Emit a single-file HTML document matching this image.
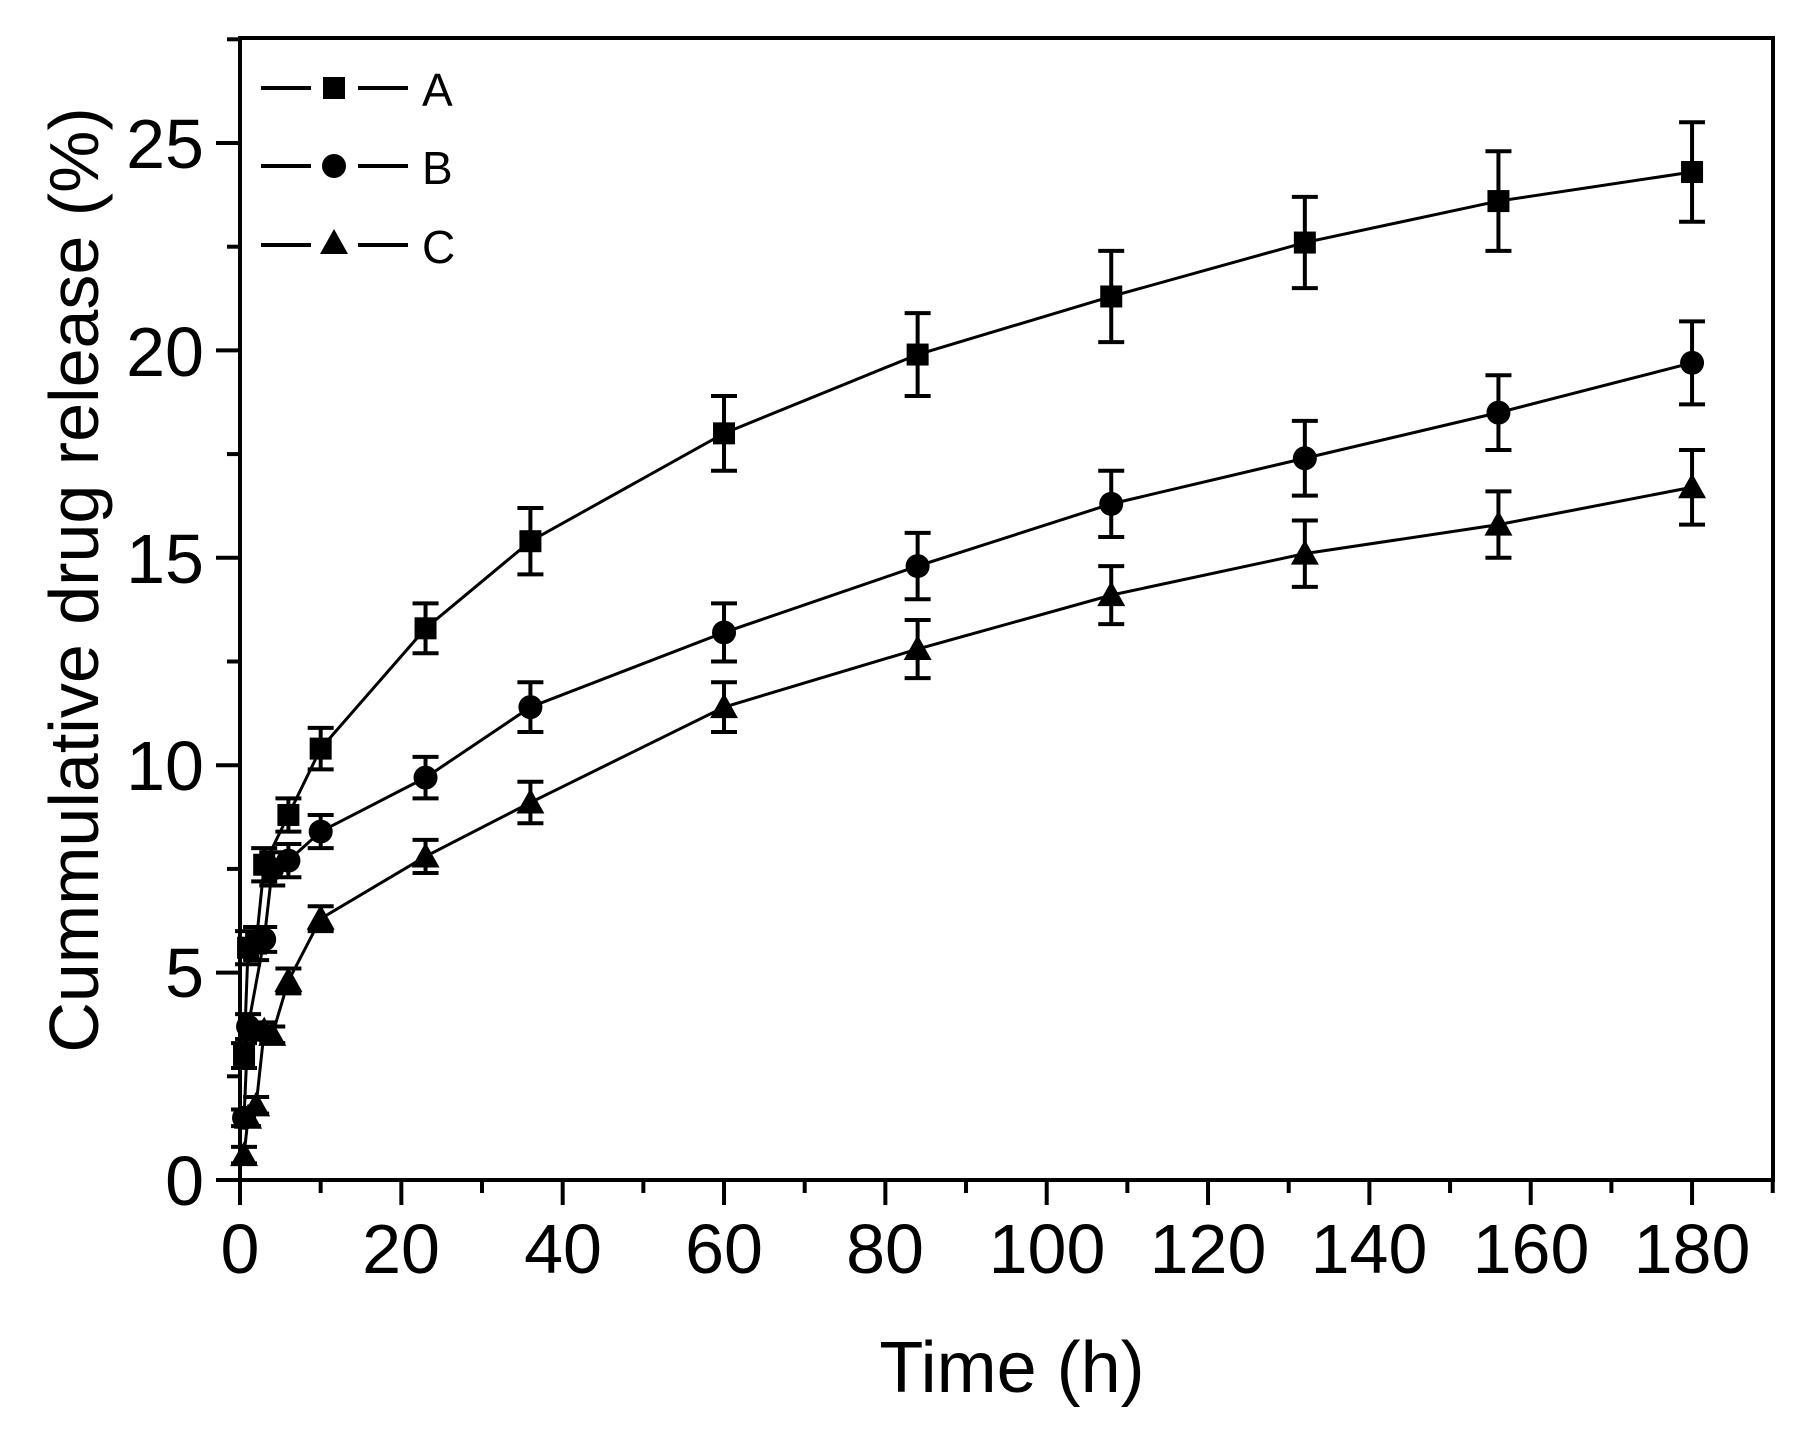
<!DOCTYPE html>
<html><head><meta charset="utf-8"><style>
html,body{margin:0;padding:0;background:#fff;}
svg{display:block;}
text{font-family:"Liberation Sans",Arial,sans-serif;fill:#000;}
</style></head><body>
<svg id="s" width="1809" height="1448" viewBox="0 0 1809 1448" xmlns="http://www.w3.org/2000/svg">
<rect x="240" y="38" width="1533" height="1142" fill="none" stroke="#000" stroke-width="4"/>
<g id="ticks" stroke="#000" stroke-width="4"></g>
<g font-size="70" text-anchor="end">
<text x="204" y="1205">0</text>
<text x="204" y="997">5</text>
<text x="204" y="790">10</text>
<text x="204" y="583">15</text>
<text x="204" y="376">20</text>
<text x="204" y="168">25</text>
</g>
<g font-size="70" text-anchor="middle">
<text x="240" y="1273">0</text>
<text x="401" y="1273">20</text>
<text x="563" y="1273">40</text>
<text x="724" y="1273">60</text>
<text x="885" y="1273">80</text>
<text x="1047" y="1273">100</text>
<text x="1208" y="1273">120</text>
<text x="1369" y="1273">140</text>
<text x="1531" y="1273">160</text>
<text x="1692" y="1273">180</text>
</g>
<text x="1012" y="1392" font-size="72" text-anchor="middle">Time (h)</text>
<text transform="translate(98,580) rotate(-90)" font-size="70" text-anchor="middle">Cummulative drug release (%)</text>
<g id="data"></g>
<g stroke="#000" stroke-width="4">
<line x1="261" y1="88" x2="311" y2="88"/><line x1="358" y1="88" x2="408" y2="88"/>
<line x1="261" y1="166" x2="311" y2="166"/><line x1="358" y1="166" x2="408" y2="166"/>
<line x1="261" y1="245" x2="311" y2="245"/><line x1="358" y1="245" x2="408" y2="245"/>
</g>
<rect x="323" y="77" width="22" height="22" fill="#000"/>
<circle cx="334" cy="166" r="12" fill="#000"/>
<polygon points="334,229 348,254 320,254" fill="#000"/>
<g font-size="46">
<text x="422" y="106">A</text>
<text x="422" y="184">B</text>
<text x="422" y="263">C</text>
</g>
</svg>
<script>
var NS="http://www.w3.org/2000/svg";
function X(t){return 240+t*8.067;}function Y(v){return 1180-v*41.48;}
function el(p,n,a){var e=document.createElementNS(NS,n);for(var k in a)e.setAttribute(k,a[k]);p.appendChild(e);return e;}
var tk=document.getElementById('ticks');
for(var v=0;v<=27.5;v+=2.5){var maj=(v%5===0);el(tk,'line',{x1:maj?216:227,x2:240,y1:Y(v),y2:Y(v)});}
for(var t=0;t<=190;t+=10){var maj=(t%20===0);el(tk,'line',{x1:X(t),x2:X(t),y1:1180,y2:maj?1205:1193});}
var D={
A:[[0.5,3.0,0.3],[1,5.6,0.4],[2,5.7,0.4],[3,7.6,0.4],[6,8.8,0.4],[10,10.4,0.5],[23,13.3,0.6],[36,15.4,0.8],[60,18.0,0.9],[84,19.9,1.0],[108,21.3,1.1],[132,22.6,1.1],[156,23.6,1.2],[180,24.3,1.2]],
B:[[0.5,1.5,0.2],[1,3.7,0.3],[3,5.8,0.3],[4,7.5,0.4],[6,7.7,0.4],[10,8.4,0.4],[23,9.7,0.5],[36,11.4,0.6],[60,13.2,0.7],[84,14.8,0.8],[108,16.3,0.8],[132,17.4,0.9],[156,18.5,0.9],[180,19.7,1.0]],
C:[[0.5,0.6,0.2],[1,1.5,0.2],[2,1.8,0.2],[3,3.6,0.2],[4,3.5,0.2],[6,4.8,0.3],[10,6.3,0.3],[23,7.8,0.4],[36,9.1,0.5],[60,11.4,0.6],[84,12.8,0.7],[108,14.1,0.7],[132,15.1,0.8],[156,15.8,0.8],[180,16.7,0.9]]};
var g=document.getElementById('data');
for(var s in D){var d=D[s];
el(g,'polyline',{points:d.map(function(p){return X(p[0])+','+Y(p[1]);}).join(' '),fill:'none',stroke:'#000','stroke-width':3});
d.forEach(function(p){var x=X(p[0]),y=Y(p[1]),e=p[2]*41.48;
el(g,'line',{x1:x,x2:x,y1:y-e,y2:y+e,stroke:'#000','stroke-width':4});
el(g,'line',{x1:x-13,x2:x+13,y1:y-e,y2:y-e,stroke:'#000','stroke-width':4});
el(g,'line',{x1:x-13,x2:x+13,y1:y+e,y2:y+e,stroke:'#000','stroke-width':4});
if(s==='A')el(g,'rect',{x:x-11,y:y-11,width:22,height:22,fill:'#000'});
else if(s==='B')el(g,'circle',{cx:x,cy:y,r:12,fill:'#000'});
else el(g,'polygon',{points:x+','+(y-14)+' '+(x+14)+','+(y+11)+' '+(x-14)+','+(y+11),fill:'#000'});
});}
</script>
</body></html>
